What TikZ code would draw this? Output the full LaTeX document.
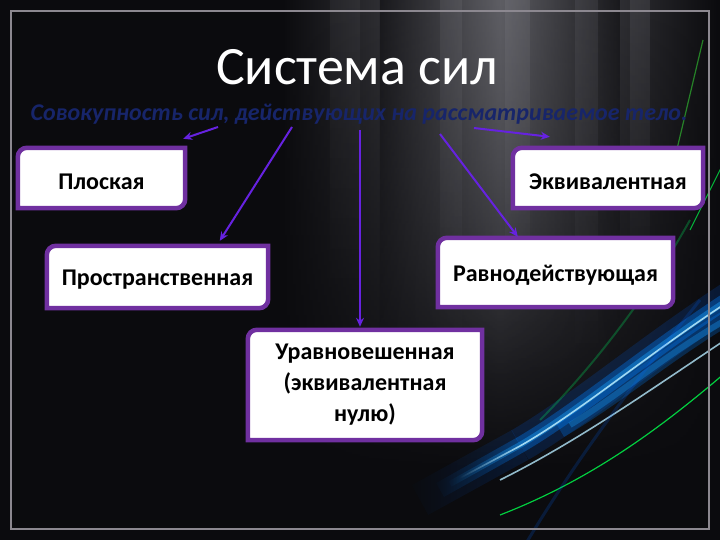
\documentclass[tikz,border=0pt]{standalone}
\usepackage{fontspec}
\setmainfont{Carlito}
\usetikzlibrary{arrows.meta,fadings,calc}
\definecolor{bgc}{HTML}{0B0B0E}
\definecolor{framec}{HTML}{8C8890}
\definecolor{boxpurple}{HTML}{7030A0}
\definecolor{arrowc}{HTML}{6622E0}
\definecolor{subblue}{HTML}{17256A}
\definecolor{streak}{HTML}{9A9AA2}
\pgfdeclarelayer{back}
\pgfdeclarelayer{boxes}
\pgfsetlayers{back,boxes,main}
\tikzset{
  boxtext/.style={inner sep=0pt, font=\bfseries\fontsize{24}{31}\selectfont, text=black, align=center},
  boxline/.style={draw=boxpurple, fill=white, line width=4.5pt},
  arr/.style={draw=arrowc, line width=2pt, -{Stealth[length=9pt,width=8pt]}},
  glowW/.style={line width=34pt, draw=blue!60!cyan, opacity=0.16},
  glowA/.style={line width=16pt, draw=blue!50!cyan, opacity=0.35},
  glowB/.style={line width=6pt, draw=cyan!60!blue, opacity=0.7},
  glowC/.style={line width=1.6pt, draw=cyan!30!white, opacity=0.9},
}
\newcommand\myframebox[1]{%
  \draw[boxline] (#1.west) [rounded corners=9pt] -- (#1.north west) -- (#1.north)
    [sharp corners] -- (#1.north east) -- (#1.east)
    [rounded corners=9pt] -- (#1.south east) -- (#1.south)
    [sharp corners] -- (#1.south west) -- cycle;}
\newcommand\lowered[2]{\raisebox{-#1}[\height][\depth]{#2}}
\begin{document}
\begin{tikzpicture}[x=1pt, y={(0pt,-1pt)}]
\useasboundingbox (0,0) rectangle (720,540);
\begin{pgfonlayer}{back}
  \fill[bgc] (0,0) rectangle (720,540);
  \begin{scope}
    \clip (0,0) rectangle (720,540);
    % grey light from the top
    \shade[left color=bgc, right color=bgc, middle color=streak!55!bgc, path fading=south] (280,0) rectangle (720,470);
    \shade[left color=bgc, right color=bgc, middle color=streak!60!bgc, path fading=south, opacity=0.6] (380,0) rectangle (620,380);
    \fill[streak, opacity=0.12, path fading=south] (440,0) rectangle (462,360);
    \fill[streak, opacity=0.15, path fading=south] (505,0) rectangle (530,330);
    \fill[streak, opacity=0.12, path fading=south] (575,0) rectangle (598,360);
    \fill[streak, opacity=0.15, path fading=south] (630,0) rectangle (650,300);
    \fill[streak, opacity=0.08, path fading=south] (330,0) rectangle (360,300);
    % green streaks top right
    \draw[green!60!gray, line width=1.2pt, opacity=0.6] (703,40) -- (672,170);
    \draw[green!70!cyan, line width=1pt, opacity=0.7] (730,150) -- (690,230);
    % blue glow streaks bottom right
    \draw[glowW, path fading=west] (420,500) -- (520,445);
    \draw[glowW] (520,445) .. controls (580,410) and (650,350) .. (740,292);
    \draw[glowA, path fading=west] (440,490) -- (520,445);
    \draw[glowA] (520,445) .. controls (580,410) and (650,350) .. (740,292);
    \draw[glowB, path fading=west] (450,484) -- (520,445);
    \draw[glowB] (520,445) .. controls (580,410) and (650,350) .. (740,292);
    \draw[glowA, opacity=0.25] (560,430) .. controls (620,395) and (670,350) .. (740,310);
    \draw[glowB, opacity=0.5] (570,425) .. controls (620,395) and (670,350) .. (740,312);
    \draw[glowC, path fading=west] (460,478) -- (520,446);
    \draw[glowC] (520,446) .. controls (580,412) and (650,352) .. (740,294);
    \draw[glowC, opacity=0.8] (500,480) .. controls (580,440) and (650,390) .. (740,330);
    \draw[green!70!cyan, line width=1.2pt, opacity=0.8] (500,515) .. controls (590,480) and (660,430) .. (740,360);
    \draw[blue!60!cyan, line width=3pt, opacity=0.18] (525,545) .. controls (570,470) and (620,400) .. (700,300);
    \draw[green!60!cyan, line width=2pt, opacity=0.25] (540,420) .. controls (580,380) and (640,310) .. (690,220);
  \end{scope}
  \draw[framec, line width=1.4pt] (11,11) rectangle (709,529);
\end{pgfonlayer}

% title and subtitle
\node[text=white, font=\fontsize{54}{60}\selectfont] (title) at (357,67) {Система сил};
\node[text=subblue, font=\bfseries\itshape\fontsize{24}{28}\selectfont] (sub) at (359,114) {Совокупность сил, действующих на рассматриваемое тело.};

% boxes
\node[boxtext, minimum width=167pt, minimum height=60pt] (plos) at (101.5,178) {\lowered{4pt}{Плоская}};
\node[boxtext, minimum width=221pt, minimum height=62pt] (prost) at (157.5,277) {\lowered{3pt}{Пространственная}};
\node[boxtext, minimum width=190pt, minimum height=60pt] (ekv) at (608,178) {\lowered{4pt}{Эквивалентная}};
\node[boxtext, minimum width=235pt, minimum height=69pt] (ravn) at (555.5,272.5) {\lowered{3pt}{Равнодействующая}};
\node[boxtext, minimum width=234pt, minimum height=110pt] (urav) at (365,385) {Уравновешенная\\(эквивалентная\\нулю)};
\begin{pgfonlayer}{boxes}
  \myframebox{plos}
  \myframebox{prost}
  \myframebox{ekv}
  \myframebox{ravn}
  \myframebox{urav}
\end{pgfonlayer}

% arrows
\coordinate (s1) at (218,127);
\coordinate (s2) at (292,127);
\coordinate (s3) at (360,130);
\coordinate (s4) at (440,134);
\coordinate (s5) at (474,128);
\draw[arr] (s1) -- ([shift={(-2,-9)}]plos.north east);
\draw[arr] (s2) -- ([shift={(173,-5)}]prost.north west);
\draw[arr] (s3) -- ([shift={(-5,-3)}]urav.north);
\draw[arr] (s4) -- ([shift={(80,-1)}]ravn.north west);
\draw[arr] (s5) -- ([shift={(37,-11)}]ekv.north west);
\end{tikzpicture}
\end{document}
